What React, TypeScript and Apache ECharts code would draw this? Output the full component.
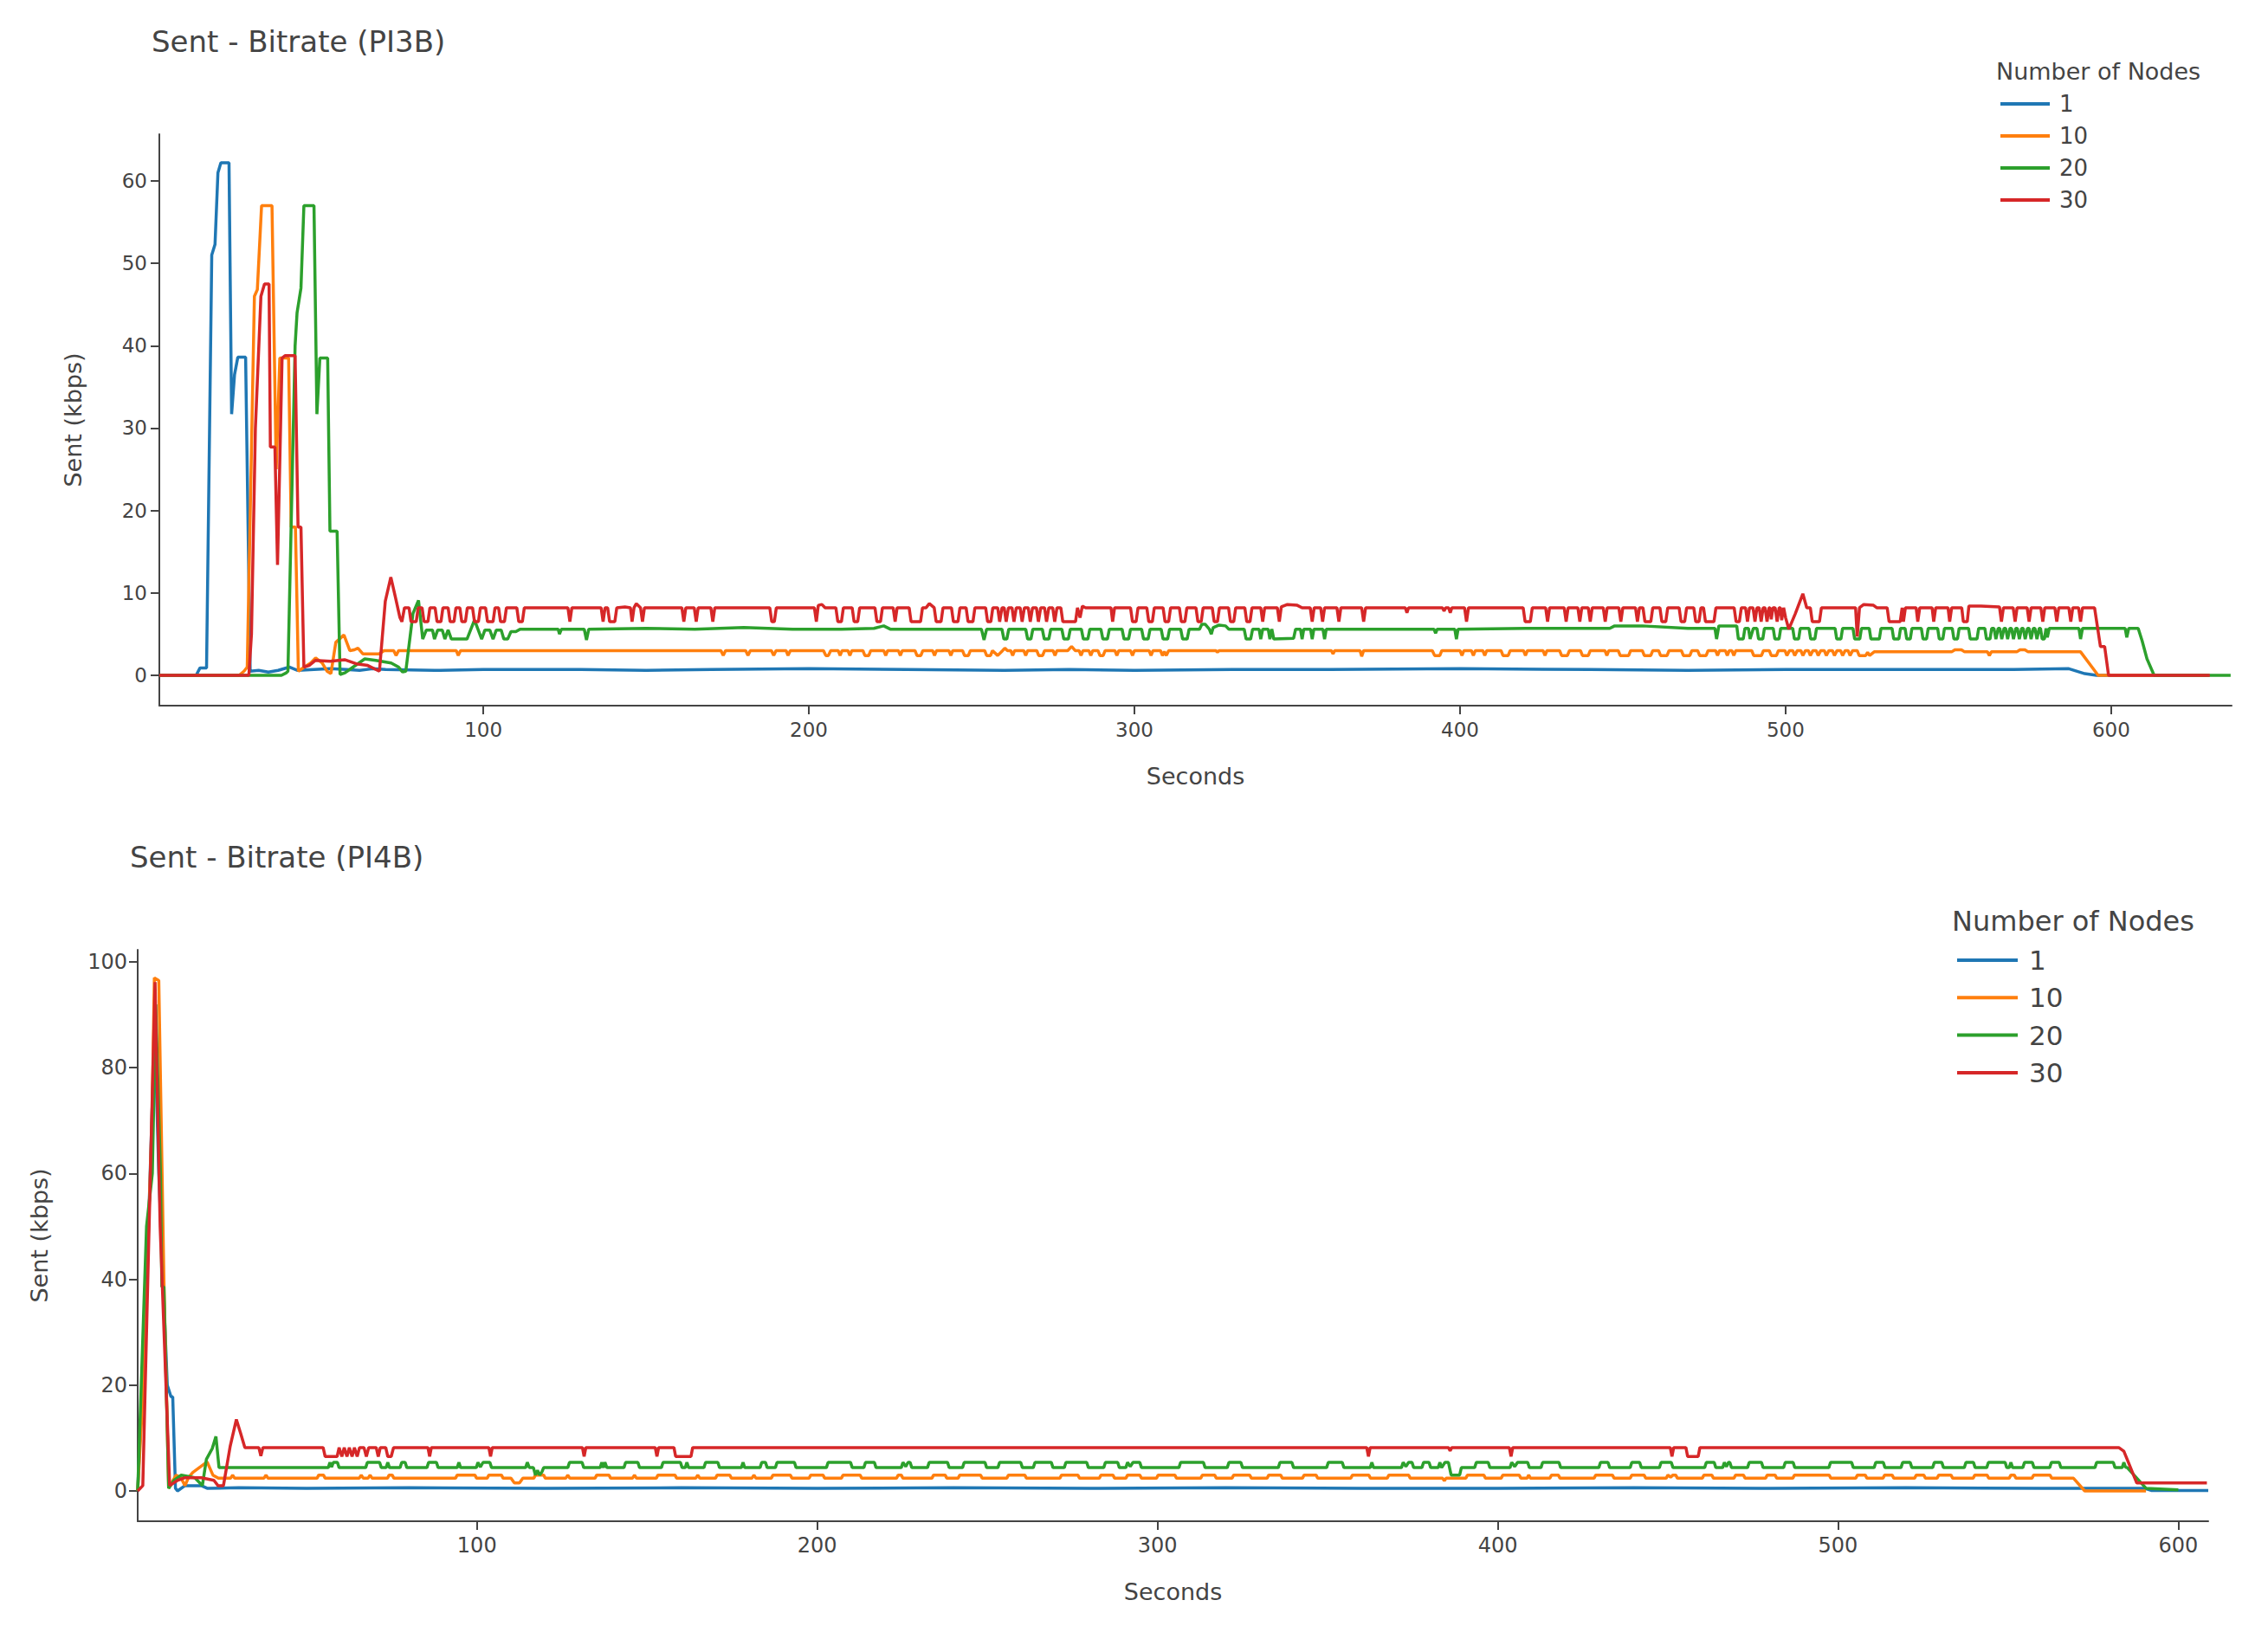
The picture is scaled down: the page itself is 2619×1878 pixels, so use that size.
import React, { useEffect, useRef } from "react";
import * as echarts from "echarts";

const seriesNames = ["1", "10", "20", "30"];
const legendTitle = "Number of Nodes";
const chartTitles = ["Sent - Bitrate (PI3B)", "Sent - Bitrate (PI4B)"];
const xAxisTitle = "Seconds";
const yAxisTitle = "Sent (kbps)";

const xTicks = [100, 200, 300, 400, 500, 600];
const yTicksPI3B = [0, 10, 20, 30, 40, 50, 60];
const yTicksPI4B = [0, 20, 40, 60, 80, 100];

const xRangePI3B = [0.5, 637];
const yRangePI3B = [-3.68, 65.67];
const xRangePI4B = [0.3, 608.8];
const yRangePI4B = [-5.73, 102.3];

// ---- PI3B ----
const pi3bNodes1 = [[0.5,0],[11.8,0],[13,0.9],[15,0.9],[16.6,51],[17.6,52.3],[18.5,61],[19.4,62.2],[21.9,62.2],[22.7,31.7],[23.6,36.5],[24.6,38.6],[27,38.6],[28.4,0.5],[31,0.6],[34,0.4],[37,0.6],[40.4,1.0],[43,0.6],[48,0.7],[53,0.8],[58,0.7],[62,0.6],[66,0.8],[70,0.7],[85,0.6],[100,0.7],[130,0.7],[150,0.6],[170,0.7],[200,0.8],[230,0.7],[260,0.6],[280,0.7],[300,0.6],[330,0.7],[360,0.7],[400,0.8],[440,0.7],[470,0.6],[500,0.7],[540,0.7],[570,0.7],[587,0.8],[591.9,0.2],[595.5,0],[630,0]];

const pi3bNodes10 = [[0.5,0],[25,0],[26.5,0.5],[27.5,1],[29.7,46],[30.6,46.8],[31.9,57],[35.1,57],[36.4,25],[37.5,38.5],[40.2,38.5],[41,18],[42.3,18],[43.2,0.5],[45,1],[47,1.5],[48.5,2.1],[50.5,1.5],[52,0.5],[53.2,0.2],[54.7,4],[57.2,4.9],[59,3],[60.4,3.1],[61.5,3.3],[63,2.6],[68,2.6],[69.5,3],[72.5,3],[73.2,2.4],[74,3],[91.7,3],[92.3,2.4],[93,3],[173,3],[173.7,2.4],[174.4,3],[180.6,3],[181.3,2.4],[182,3],[188.5,3],[189.2,2.4],[189.9,3],[193,3],[193.6,2.4],[194.3,3],[204.5,3],[205.2,2.4],[206,2.4],[206.7,3],[209,3],[209.6,2.4],[210.2,3],[212,3],[212.6,2.4],[213.2,3],[216.6,3],[217.2,2.4],[218.4,2.4],[219,3],[223,3],[223.6,2.4],[224.2,3],[227.5,3],[228.1,2.4],[228.7,3],[232.6,3],[233.2,2.4],[234.4,2.4],[235,3],[238,3],[238.6,2.4],[239.2,3],[243,3],[243.6,2.4],[244.2,3],[247.2,3],[247.8,2.4],[249,2.4],[249.6,3],[254,3],[254.6,2.4],[255.8,2.4],[256.4,3],[258,2.4],[259.5,3],[260.2,3.3],[261,3],[262,3],[262.6,2.4],[263.2,3],[266,3],[266.6,2.4],[267.2,3],[270,3],[270.6,2.4],[271.8,2.4],[272.4,3],[275,3],[275.6,2.4],[276.2,3],[279.5,3],[280.7,3.5],[281.8,3],[283,3],[283.6,2.4],[284.2,3],[286,3],[286.6,2.4],[287.2,3],[288.8,3],[289.4,2.4],[290.4,2.4],[291,3],[294,3],[294.6,2.4],[295.2,3],[298.8,3],[299.4,2.4],[300,3],[304.5,3],[305.1,2.4],[305.7,3],[308,3],[308.6,2.4],[309.2,2.9],[309.8,2.4],[310.5,3],[325,3],[325.5,2.8],[326,3],[360.5,3],[361,2.6],[361.5,3],[369.3,3],[369.8,2.3],[370.4,3],[391.5,3],[392.2,2.4],[393.8,2.4],[394.4,3],[400,3],[400.6,2.4],[401.2,3],[403.5,3],[404.1,2.4],[404.7,3],[407,3],[407.6,2.4],[408.2,3],[412.6,3],[413.2,2.4],[414.8,2.4],[415.4,3],[419.5,3],[420.1,2.4],[420.7,3],[425.5,3],[426.1,2.4],[426.7,3],[430.6,3],[431.2,2.4],[433,2.4],[433.6,3],[437,3],[437.6,2.4],[439.4,2.4],[440,3],[444.5,3],[445.1,2.4],[445.7,3],[448.6,3],[449.2,2.4],[451.8,2.4],[452.4,3],[456,3],[456.6,2.4],[458.6,2.4],[459.2,3],[461,3],[461.6,2.4],[463.6,2.4],[464.2,3],[468,3],[468.6,2.4],[470.6,2.4],[471.2,3],[473,3],[473.6,2.4],[475.6,2.4],[476.2,3],[478.5,3],[479.1,2.4],[479.7,3],[481.5,3],[482.1,2.4],[482.7,3],[483.5,3],[484.1,2.4],[484.7,3],[489.6,3],[490.2,2.4],[492.6,2.4],[493.2,3],[495,3],[495.6,2.4],[497.2,2.4],[497.8,3],[499.8,3],[500.4,2.4],[501.2,3],[502.2,3],[502.8,2.4],[503.6,3],[504.7,3],[505.3,2.4],[506.1,3],[507,3],[507.6,2.4],[508.4,3],[509.4,3],[510,2.4],[510.8,3],[511.9,3],[512.5,2.4],[513.3,3],[514.4,3],[515,2.4],[515.8,3],[516.9,3],[517.5,2.4],[518.3,3],[519.2,3],[519.8,2.4],[520.6,3],[522,3],[522.6,2.4],[524.6,2.4],[525.2,2.8],[525.8,2.4],[527.2,2.85],[551,2.85],[552,3.1],[554,3.1],[555,2.85],[562,2.85],[562.6,2.4],[563.2,2.85],[571,2.85],[572,3.1],[573.5,3.1],[574.5,2.85],[590.6,2.85],[596,0],[630,0]];

const pi3bNodes20 = [[0.5,0],[38,0],[39.5,0.3],[40,0.5],[42.2,40],[42.8,44],[44,47],[44.9,57],[48,57],[48.9,31.7],[49.8,38.5],[52.2,38.5],[52.9,17.5],[55.1,17.5],[56,0.1],[57.5,0.3],[60,1],[63.6,2],[67,1.8],[71.7,1.5],[74,1],[75.2,0.4],[76.2,0.5],[78.4,7.5],[80.1,9.1],[81.4,4.4],[82.5,5.5],[84.4,5.5],[85,4.4],[86,5.5],[87.4,5.5],[88.2,4.4],[89.2,5.5],[90.2,4.4],[95,4.4],[97.3,6.7],[99.5,4.4],[100.5,5.5],[102,5.5],[103,4.4],[104,5.5],[105.5,5.5],[106.3,4.4],[107.5,4.4],[108.5,5.3],[110,5.3],[111.3,5.6],[123,5.6],[123.4,5],[124,5.6],[131,5.6],[131.7,4.3],[132.4,5.6],[150,5.7],[165,5.6],[180,5.8],[195,5.6],[210,5.6],[220,5.7],[223,6.0],[225,5.6],[240,5.6],[253,5.6],[253.8,4.3],[254.6,5.6],[259.3,5.6],[259.9,4.4],[260.8,4.4],[261.4,5.6],[266.6,5.6],[267.2,4.4],[268.2,4.4],[268.8,5.6],[271.7,5.6],[272.3,4.4],[273.7,4.4],[274.3,5.6],[277.7,5.6],[278.3,4.4],[279.7,4.4],[280.3,5.6],[283.7,5.6],[284.3,4.4],[285.7,4.4],[286.3,5.6],[289.7,5.6],[290.3,4.4],[291.7,4.4],[292.3,5.6],[296.2,5.6],[296.8,4.4],[298.2,4.4],[298.8,5.6],[302.2,5.6],[302.8,4.4],[304.2,4.4],[304.8,5.6],[308.2,5.6],[308.8,4.4],[310.2,4.4],[310.8,5.6],[314.2,5.6],[314.8,4.4],[316.2,4.4],[316.8,5.6],[320,5.6],[320.7,6.2],[321.7,6.2],[323,5.6],[323.6,5],[324.2,5.8],[326,6.1],[328,6.0],[329,5.6],[333.7,5.6],[334.3,4.4],[335.7,4.4],[336.3,5.6],[338.3,5.6],[338.8,4.4],[339.4,5.6],[341.1,5.6],[341.6,4.4],[342.2,5.6],[342.8,4.4],[348.9,4.5],[349.5,5.6],[351,5.6],[351.5,4.4],[352,5.6],[354.1,5.6],[354.6,4.4],[355.1,5.6],[357.9,5.6],[358.4,4.4],[358.9,5.6],[392,5.6],[392.5,5.1],[393,5.6],[398.4,5.6],[398.9,4.4],[399.4,5.6],[420,5.7],[446,5.7],[447.5,6.0],[456,6.0],[470,5.7],[478.3,5.7],[478.8,4.4],[479.5,6.0],[485,6.0],[485.5,4.4],[487,4.4],[487.5,5.7],[488.6,5.7],[489.1,4.4],[490.1,5.7],[491.2,5.7],[491.7,4.4],[493,4.4],[493.5,5.7],[496.2,5.7],[496.7,4.4],[498,4.4],[498.5,5.7],[502.2,5.7],[502.7,4.4],[504,4.4],[504.5,5.7],[507.2,5.7],[507.7,4.4],[509,4.4],[509.5,5.7],[515.2,5.7],[515.7,4.4],[517,4.4],[517.5,5.7],[520.7,5.7],[521.2,4.4],[522.8,4.4],[523.3,5.7],[525.7,5.7],[526.2,4.4],[528.8,4.4],[529.3,5.7],[532.7,5.7],[533.2,4.4],[534.8,4.4],[535.3,5.7],[536.7,5.7],[537.2,4.4],[538.3,4.4],[538.8,5.7],[541.7,5.7],[542.2,4.4],[543.3,4.4],[543.8,5.7],[546.7,5.7],[547.2,4.4],[548.3,4.4],[548.8,5.7],[551.2,5.7],[551.7,4.4],[552.8,4.4],[553.3,5.7],[556.2,5.7],[556.7,4.4],[558.8,4.4],[559.3,5.7],[561.2,5.7],[561.7,4.4],[562.8,4.4],[563.3,5.7],[564,5.7],[564.6,4.4],[565.3,5.7],[565.8,5.7],[566.4,4.4],[567.1,5.7],[567.6,5.7],[568.2,4.4],[568.9,5.7],[569.4,5.7],[570,4.4],[570.7,5.7],[571.2,5.7],[571.8,4.4],[572.5,5.7],[573,5.7],[573.6,4.4],[574.3,5.7],[574.8,5.7],[575.4,4.4],[576.1,5.7],[576.6,5.7],[577.2,4.4],[577.9,5.7],[578.3,5.7],[578.8,4.4],[579.5,4.4],[580,5.7],[580.4,4.6],[581,5.7],[590.1,5.7],[590.6,4.4],[591.2,5.7],[604.3,5.7],[604.8,4.6],[605.4,5.7],[608.3,5.7],[609.5,4.2],[611,2],[613.2,0],[636.7,0]];

const pi3bNodes30 = [[0.5,0],[28,0],[28.8,5],[30,30],[31.7,46],[32.8,47.5],[34.2,47.5],[34.6,27.7],[36,27.7],[36.8,13.4],[38.2,38.5],[39.1,38.8],[42.2,38.8],[43.1,18],[44,18],[44.9,1],[46.5,1.2],[48.4,1.8],[53,1.7],[57.4,1.9],[61,1.4],[64.5,1.2],[68.1,0.5],[69.9,9],[71.6,11.9],[73,9.5],[74.4,7],[75,6.5],[75.8,8.2],[77.2,8.2],[77.8,6.5],[79.4,6.5],[80,8.2],[81.2,8.2],[81.8,6.5],[83,6.5],[83.6,8.2],[85.2,8.2],[85.8,6.5],[87,6.5],[87.6,8.2],[89.2,8.2],[89.8,6.5],[91,6.5],[91.6,8.2],[92.8,8.2],[93.4,6.5],[94.5,6.5],[95.1,8.2],[96.7,8.2],[97.3,6.5],[98.5,6.5],[99.1,8.2],[100.7,8.2],[101.3,6.5],[103,6.5],[103.6,8.2],[104.7,8.2],[105.3,6.5],[106.5,6.5],[107.1,8.2],[110.3,8.2],[110.9,6.5],[112,6.5],[112.6,8.2],[126,8.2],[126.6,6.5],[127.2,8.2],[136.2,8.2],[136.8,6.5],[137.4,8.2],[138.2,8.2],[138.8,6.5],[140.4,6.5],[141,8.2],[143.5,8.3],[145.2,8.2],[145.7,6.5],[146.3,8.2],[147,8.7],[148.3,8.2],[148.9,6.5],[149.5,8.2],[161,8.2],[161.6,6.5],[162.2,8.2],[164.8,8.2],[165.4,6.5],[166,8.2],[169.9,8.2],[170.5,6.5],[171.1,8.2],[188,8.2],[188.6,6.5],[189.4,6.5],[190,8.2],[201.7,8.2],[202.3,6.5],[202.9,8.5],[204,8.6],[205,8.2],[208.3,8.2],[208.9,6.5],[210,6.5],[210.6,8.2],[213.3,8.2],[213.9,6.5],[215,6.5],[215.6,8.2],[220.3,8.2],[220.9,6.5],[222,6.5],[222.6,8.2],[225.9,8.2],[226.5,6.5],[227.1,8.2],[230.8,8.2],[231.4,6.5],[234.3,6.5],[234.9,8.2],[236,8.2],[237,8.7],[238.5,8.2],[239.1,6.5],[240.6,6.5],[241.2,8.2],[243.8,8.2],[244.4,6.5],[245.8,6.5],[246.4,8.2],[248.3,8.2],[248.9,6.5],[250.4,6.5],[251,8.2],[254.3,8.2],[254.9,6.5],[255.9,6.5],[256.5,8.2],[258,8.2],[258.6,6.5],[259.3,8.2],[260,8.2],[260.6,6.5],[261.3,8.2],[262.4,8.2],[263,6.5],[263.7,8.2],[264.9,8.2],[265.5,6.5],[266.2,8.2],[267.4,8.2],[268,6.5],[268.7,8.2],[269.9,8.2],[270.5,6.5],[271.2,8.2],[272.4,8.2],[273,6.5],[273.7,8.2],[274.9,8.2],[275.5,6.5],[276.2,8.2],[277.4,8.2],[278,6.5],[281.9,6.5],[282.5,8.2],[283.3,7],[284,8.4],[285,8.2],[286.3,8.2],[292.8,8.2],[293.3,6.5],[293.9,8.2],[298.8,8.2],[299.4,6.5],[300.5,6.5],[301.1,8.2],[303.8,8.2],[304.4,6.5],[305.5,6.5],[306.1,8.2],[308.8,8.2],[309.4,6.5],[310.5,6.5],[311.1,8.2],[313.8,8.2],[314.4,6.5],[315.5,6.5],[316.1,8.2],[318.9,8.2],[319.5,6.5],[320.5,6.5],[321.1,8.2],[323.9,8.2],[324.5,6.5],[325.5,6.5],[326.1,8.2],[328.9,8.2],[329.5,6.5],[330.5,6.5],[331.1,8.2],[333.9,8.2],[334.5,6.5],[335.5,6.5],[336.1,8.2],[338.8,8.2],[339.4,6.5],[340,8.2],[343.9,8.2],[344.5,6.5],[345.1,8.3],[347,8.6],[350,8.5],[351.5,8.2],[354,8.2],[354.6,6.5],[355.2,8.2],[357.2,8.2],[357.8,6.5],[358.4,8.2],[362.2,8.2],[362.8,6.5],[363.4,8.2],[369.8,8.2],[370.4,6.5],[371,8.2],[383.2,8.2],[383.7,7.6],[384.2,8.2],[394.6,8.2],[395.1,7.8],[395.6,8.2],[396.5,8.2],[397,7.6],[397.5,8.2],[401.4,8.2],[402,6.5],[402.6,8.2],[419.4,8.2],[420,6.5],[421.6,6.5],[422.2,8.2],[426.3,8.2],[426.9,6.5],[427.5,8.2],[432,8.2],[432.6,6.5],[433.2,8.2],[436.2,8.2],[436.8,6.5],[437.4,8.2],[439.4,8.2],[440,6.5],[440.6,8.2],[444,8.2],[444.6,6.5],[445.2,8.2],[448.8,8.2],[449.4,6.5],[450,8.2],[453.9,8.2],[454.5,6.5],[455.1,8.2],[456.2,8.2],[456.8,6.5],[458.6,6.5],[459.2,8.2],[461.4,8.2],[462,6.5],[463.2,6.5],[463.8,8.2],[467.3,8.2],[467.9,6.5],[469,6.5],[469.6,8.2],[471.8,8.2],[472.4,6.5],[473.4,6.5],[474,8.2],[474.8,8.2],[475.4,6.5],[478,6.5],[478.6,8.2],[484.2,8.2],[484.8,6.5],[485.8,6.5],[486.4,8.2],[487.7,8.2],[488.3,6.5],[488.9,8.2],[490,8.2],[490.6,6.5],[491.2,8.2],[491.9,8.2],[492.5,6.5],[493.1,8.2],[493.7,8.2],[494.3,6.5],[494.9,8.2],[495.2,8.2],[495.6,6.8],[496.1,8.2],[496.8,8.2],[497.4,6.5],[498,8.2],[498.4,8.2],[498.8,6.7],[499.4,8.2],[500,7],[501,5.6],[503,7.5],[505.3,9.9],[506.5,8.2],[507.6,8.2],[508.2,6.5],[510.4,6.5],[511,8.2],[521.5,8.2],[522,4.7],[522.7,8.2],[524,8.6],[527,8.5],[528,8.2],[531.2,8.2],[531.8,6.5],[535.2,6.5],[535.8,8.2],[536.2,6.5],[536.8,8.2],[540.1,8.2],[540.6,6.5],[541.2,8.2],[545,8.2],[545.5,6.5],[546.1,8.2],[549.9,8.2],[550.4,6.5],[551,8.2],[554.1,8.2],[554.6,6.5],[555.8,6.5],[556.3,8.4],[560,8.4],[565.7,8.3],[566.3,6.5],[566.9,8.2],[569.9,8.2],[570.5,6.5],[571.1,8.2],[574.2,8.2],[574.8,6.5],[575.4,8.2],[578.4,8.2],[579,6.5],[579.6,8.2],[582.7,8.2],[583.3,6.5],[583.9,8.2],[587,8.2],[587.6,6.5],[588.2,8.2],[590,8.2],[590.6,6.5],[591.2,8.2],[594.9,8.2],[596.7,3.5],[598,3.5],[599.2,0],[630.3,0]];

// ---- PI4B ----
const pi4bNodes1 = [[0.3,0],[3,40],[5.3,88],[6.5,60],[9,20],[10.1,17.8],[10.6,17.8],[11.4,0.5],[12,0],[14.2,1],[19,1],[20.7,0.5],[30,0.6],[50,0.5],[80,0.6],[120,0.5],[160,0.6],[200,0.5],[240,0.6],[280,0.5],[320,0.6],[360,0.5],[400,0.5],[440,0.6],[480,0.5],[520,0.6],[560,0.5],[590,0.5],[592,0.1],[608.8,0.1]];

const pi4bNodes10 = [[0.3,0],[2,20],[4.5,70],[5.2,97],[6.5,96.5],[8,40],[9.4,0.5],[11.6,3],[13,2.5],[14.2,1],[15.2,2.5],[16.5,3.5],[20.7,5.5],[22.4,3],[24,2.4],[27.6,2.4],[28.2,3],[28.8,2.4],[37.4,2.4],[38,3],[38.6,2.4],[53,2.4],[53.5,3],[54.9,3],[55.4,2.4],[65.4,2.4],[66,3],[66.6,2.4],[68,2.4],[68.6,3],[69.2,2.4],[73.7,2.4],[74.2,3],[75.1,3],[75.6,2.4],[93.7,2.4],[94.2,3],[99.4,3],[99.9,2.4],[103,2.4],[103.5,3],[107.2,3],[107.7,2.4],[110,2.4],[111,1.5],[112.5,1.5],[113.5,2.4],[116.7,2.4],[117.2,3],[119.6,3],[120.1,2.4],[126.1,2.4],[126.7,3],[127.3,2.4],[134.7,2.4],[135.2,3],[138.8,3],[139.3,2.4],[145.7,2.4],[146.3,3],[146.9,2.4],[152.7,2.4],[153.2,3],[158.2,3],[158.7,2.4],[164.3,2.4],[164.9,3],[165.5,2.4],[170.1,2.4],[170.6,3],[174.3,3],[174.8,2.4],[180.8,2.4],[181.4,3],[182,2.4],[186.5,2.4],[187,3],[192.1,3],[192.6,2.4],[197.6,2.4],[198.1,3],[201.7,3],[202.2,2.4],[207.1,2.4],[207.6,3],[212.6,3],[213.1,2.4],[223.3,2.4],[223.8,3],[224.7,3],[225.2,2.4],[233.7,2.4],[234.2,3],[237.6,3],[238.1,2.4],[241.4,2.4],[241.9,3],[248,3],[248.5,2.4],[255.7,2.4],[256.2,3],[261,3],[261.5,2.4],[271.3,2.4],[271.8,3],[276.6,3],[277.1,2.4],[282.9,2.4],[283.4,3],[286.9,3],[287.4,2.4],[290.7,2.4],[291.2,3],[294.8,3],[295.3,2.4],[299.7,2.4],[300.2,3],[305.1,3],[305.6,2.4],[312.7,2.4],[313.2,3],[316.8,3],[317.3,2.4],[321.9,2.4],[322.4,3],[327.1,3],[327.6,2.4],[332.2,2.4],[332.7,3],[336.2,3],[336.7,2.4],[342.6,2.4],[343.1,3],[346.6,3],[347.1,2.4],[356.8,2.4],[357.3,3],[362.1,3],[362.6,2.4],[367.5,2.4],[368,3],[373.8,3],[374.3,2.4],[383.8,2.4],[384.3,1.9],[384.8,2.4],[390.6,2.4],[391.1,3],[395.9,3],[396.4,2.4],[401,2.4],[401.5,3],[406.3,3],[406.8,2.4],[408.6,2.4],[409.1,3],[409.6,2.4],[415.3,2.4],[415.8,3],[417.8,3],[418.3,2.4],[428.3,2.4],[428.8,3],[433.7,3],[434.2,2.4],[438.9,2.4],[439.4,3],[443,3],[443.5,2.4],[449.5,2.4],[450,3],[450.8,2.6],[451.5,3],[452.3,3],[452.8,2.4],[460.1,2.4],[460.6,3],[462.9,3],[463.4,2.4],[469.4,2.4],[469.9,3],[472.2,3],[472.7,2.4],[478.7,2.4],[479.2,3],[481.5,3],[482,2.4],[486.7,2.4],[487.2,3],[497.4,3],[497.9,2.4],[505.2,2.4],[505.7,3],[508,3],[508.5,2.4],[513.2,2.4],[513.7,3],[515.9,3],[516.4,2.4],[522.5,2.4],[523,3],[525.2,3],[525.7,2.4],[529.1,2.4],[529.6,3],[533.2,3],[533.7,2.4],[539.7,2.4],[540.2,3],[543.8,3],[544.3,2.4],[550.3,2.4],[550.8,3],[551.8,3],[552.3,2.4],[557,2.4],[557.5,3],[562.3,3],[562.8,2.4],[569.2,2.4],[572.5,0],[590.5,0]];

const pi4bNodes20 = [[0.3,0],[2.9,50],[4.6,60],[5.6,92],[7,60],[7.4,38.6],[8,38.6],[9.4,0.5],[11,2],[13.1,3],[17.1,2.5],[19.3,1],[20.5,6],[22.2,8],[23.3,10.3],[24.2,4.4],[55.1,4.4],[56.3,4.4],[56.8,5.4],[57.3,4.5],[57.8,5.4],[59,5.4],[59.5,4.4],[67.3,4.4],[67.8,5.4],[71.4,5.4],[71.9,4.4],[73.3,4.4],[73.8,5.4],[74.3,4.4],[77.4,4.4],[77.9,5.4],[78.9,5.4],[79.4,4.4],[85.3,4.4],[85.8,5.4],[88.1,5.4],[88.6,4.4],[94.2,4.4],[94.7,5.4],[95.2,4.4],[99.8,4.4],[100.3,5.4],[101,4.5],[101.8,5.4],[103.8,5.4],[104.3,4.4],[114.3,4.4],[114.8,5.4],[115.4,4.4],[116.6,4.4],[117.2,3],[117.8,3.9],[118.4,3],[119.1,3.6],[119.6,4.4],[126.7,4.4],[127.2,5.4],[130.9,5.4],[131.4,4.4],[136.2,4.4],[136.7,5.4],[137.2,4.4],[137.6,5.4],[138.2,4.4],[143.2,4.4],[143.7,5.4],[147.3,5.4],[147.8,4.4],[154.2,4.4],[154.7,5.4],[159.8,5.4],[160.3,4.4],[161.2,4.4],[161.7,5.4],[162.2,4.4],[166.7,4.4],[167.2,5.4],[170.8,5.4],[171.3,4.4],[177.7,4.4],[178.2,5.4],[178.7,4.4],[183.2,4.4],[183.7,5.4],[184.8,5.4],[185.3,4.4],[187.7,4.4],[188.2,5.4],[193.3,5.4],[193.8,4.4],[202.7,4.4],[203.2,5.4],[209.8,5.4],[210.3,4.4],[213.7,4.4],[214.2,5.4],[216.8,5.4],[217.3,4.4],[224.7,4.4],[225.2,5.4],[226,4.6],[226.7,5.4],[227.3,5.4],[227.8,4.4],[232.4,4.4],[232.9,5.4],[238.3,5.4],[238.8,4.4],[242.7,4.4],[243.2,5.4],[249.3,5.4],[249.8,4.4],[253.1,4.4],[253.6,5.4],[259.8,5.4],[260.3,4.4],[263.5,4.4],[264,5.4],[268.8,5.4],[269.3,4.4],[272.6,4.4],[273.1,5.4],[279.2,5.4],[279.7,4.4],[284.2,4.4],[284.7,5.4],[288.3,5.4],[288.8,4.4],[290.7,4.4],[291.2,5.4],[292,4.6],[292.8,5.4],[294.8,5.4],[295.3,4.4],[306.3,4.4],[306.8,5.4],[313.5,5.4],[314,4.4],[320.5,4.4],[321,5.4],[324.5,5.4],[325,4.4],[335.5,4.4],[336,5.4],[339.5,5.4],[340,4.4],[349.7,4.4],[350.2,5.4],[354.3,5.4],[354.8,4.4],[362.5,4.4],[363,5.4],[363.5,4.4],[371.7,4.4],[372.2,5.4],[373,4.6],[373.8,5.4],[374.8,5.4],[375.3,4.4],[377.7,4.4],[378.2,5.4],[379.8,5.4],[380.3,4.4],[382.5,4.4],[383,5.4],[383.5,4.4],[384.5,5.4],[385.5,5.4],[386.3,3],[388.8,3],[389.3,4.4],[393.2,4.4],[393.7,5.4],[397.2,5.4],[397.7,4.4],[403.6,4.4],[404.1,5.4],[405,4.6],[405.8,5.4],[408.8,5.4],[409.3,4.4],[412.7,4.4],[413.2,5.4],[418,5.4],[418.5,4.4],[429.7,4.4],[430.2,5.4],[432.4,5.4],[432.9,4.4],[438.9,4.4],[439.4,5.4],[441.7,5.4],[442.2,4.4],[447.5,4.4],[448,5.4],[451,5.4],[451.5,4.4],[460.8,4.4],[461.3,5.4],[463.6,5.4],[464.1,4.4],[466.1,4.4],[466.6,5.4],[467.2,4.6],[467.8,5.4],[468.2,5.4],[468.7,4.4],[473.4,4.4],[473.9,5.4],[477.5,5.4],[478,4.4],[484,4.4],[484.5,5.4],[486.8,5.4],[487.3,4.4],[497.3,4.4],[497.8,5.4],[504,5.4],[504.5,4.4],[510.6,4.4],[511.1,5.4],[513.3,5.4],[513.8,4.4],[518.5,4.4],[519,5.4],[521.2,5.4],[521.7,4.4],[527.8,4.4],[528.3,5.4],[530.5,5.4],[531,4.4],[537.1,4.4],[537.6,5.4],[539.8,5.4],[540.3,4.4],[543.7,4.4],[544.2,5.4],[549.1,5.4],[549.6,4.4],[550.3,4.4],[550.8,5.4],[551.3,4.4],[554.3,4.4],[554.8,5.4],[557.1,5.4],[557.6,4.4],[562.2,4.4],[562.7,5.4],[565,5.4],[565.5,4.4],[575.5,4.4],[576,5.4],[580.9,5.4],[581.4,4.4],[583.5,4.4],[584,5.4],[584.5,4.5],[585,4.4],[590.5,0.5],[600,0.2]];

const pi4bNodes30 = [[0.3,0],[1.8,1],[5.4,96.2],[6.9,50],[9.7,1],[12,2],[14.2,2.5],[19,2.5],[22.7,2],[23.9,1],[25.5,1],[27.5,8.5],[29.3,13.5],[30.5,11],[31.8,8.2],[35.9,8.2],[36.5,6.6],[37.1,8.2],[54.8,8.2],[55.4,6.5],[58.9,6.5],[59.5,8.2],[60.3,6.5],[61,8.2],[61.8,6.5],[62.5,8.2],[63.3,6.5],[64,8.2],[64.8,6.5],[65.5,8.2],[66.8,8.2],[67.5,6.5],[68.2,8.2],[70.4,8.2],[71,6.5],[71.6,8.2],[73.2,8.2],[73.8,6.5],[74.8,6.5],[75.5,8.2],[85.6,8.2],[86.1,6.5],[86.6,8.2],[103.5,8.2],[104,6.5],[104.5,8.2],[131,8.2],[131.5,6.5],[132,8.2],[152.4,8.2],[152.9,6.5],[153.4,8.2],[157.9,8.2],[158.4,6.5],[162.9,6.5],[163.4,8.2],[361.5,8.2],[362,6.5],[362.5,8.2],[385.5,8.2],[386,7.6],[386.5,8.2],[403.4,8.2],[403.9,6.5],[404.4,8.2],[450.7,8.2],[451.2,6.5],[451.7,8.2],[455.3,8.2],[455.8,6.5],[458.9,6.5],[459.4,8.2],[582.5,8.2],[584,7.5],[587.8,1.5],[608.4,1.5]];

const pi3bSeries = [pi3bNodes1, pi3bNodes10, pi3bNodes20, pi3bNodes30];
const pi4bSeries = [pi4bNodes1, pi4bNodes10, pi4bNodes20, pi4bNodes30];

const FONT = 'Verdana, "DejaVu Sans", sans-serif';
const TEXT = "#444";
const COLORS = ["#1f77b4", "#ff7f0e", "#2ca02c", "#d62728"];
const LINE_W = 3.5;

function makeXAxis(gridIndex: number, range: number[], labelSize: number) {
  return {
    type: "value",
    gridIndex,
    min: range[0],
    max: range[1],
    name: xAxisTitle,
    nameLocation: "middle",
    nameGap: 68,
    nameTextStyle: { fontFamily: FONT, fontSize: 27, color: TEXT },
    axisLine: { show: true, onZero: false, lineStyle: { color: TEXT, width: 2 } },
    axisTick: { show: true, length: 10, customValues: xTicks, lineStyle: { color: TEXT, width: 2 } },
    axisLabel: { customValues: xTicks, fontFamily: FONT, fontSize: labelSize, color: TEXT, margin: 16 },
    splitLine: { show: false },
  };
}

function makeYAxis(gridIndex: number, range: number[], ticks: number[], gap: number, labelSize: number, margin: number) {
  return {
    type: "value",
    gridIndex,
    min: range[0],
    max: range[1],
    name: yAxisTitle,
    nameLocation: "middle",
    nameGap: gap,
    nameTextStyle: { fontFamily: FONT, fontSize: 27, color: TEXT },
    axisLine: { show: true, onZero: false, lineStyle: { color: TEXT, width: 2 } },
    axisTick: { show: true, length: 10, customValues: ticks, lineStyle: { color: TEXT, width: 2 } },
    axisLabel: { customValues: ticks, fontFamily: FONT, fontSize: labelSize, color: TEXT, margin },
    splitLine: { show: false },
  };
}

export default function App() {
  const ref = useRef<HTMLDivElement>(null);
  useEffect(() => {
    if (!ref.current) return;
    const chart = echarts.init(ref.current, null, { renderer: "svg" });
    const series: any[] = [];
    pi3bSeries.forEach((d, i) => {
      series.push({
        name: seriesNames[i],
        type: "line",
        xAxisIndex: 0,
        yAxisIndex: 0,
        data: d,
        showSymbol: false,
        symbol: "none",
        color: COLORS[i],
        lineStyle: { width: LINE_W, color: COLORS[i] },
        z: 2 + i,
      });
    });
    pi4bSeries.forEach((d, i) => {
      series.push({
        name: seriesNames[i],
        type: "line",
        xAxisIndex: 1,
        yAxisIndex: 1,
        data: d,
        showSymbol: false,
        symbol: "none",
        color: COLORS[i],
        lineStyle: { width: LINE_W, color: COLORS[i] },
        z: 2 + i,
      });
    });
    const option: any = {
      animation: false,
      backgroundColor: "#fff",
      color: COLORS,
      title: [
        { text: chartTitles[0], left: 175, top: 28, padding: 0, textStyle: { fontFamily: FONT, fontSize: 34, fontWeight: "normal", color: TEXT, lineHeight: 40 } },
        { text: chartTitles[1], left: 150, top: 970, padding: 0, textStyle: { fontFamily: FONT, fontSize: 34, fontWeight: "normal", color: TEXT, lineHeight: 40 } },
        { text: legendTitle, left: 2305, top: 66, padding: 0, textStyle: { fontFamily: FONT, fontSize: 27, fontWeight: "normal", color: TEXT, lineHeight: 32 } },
        { text: legendTitle, left: 2254, top: 1045, padding: 0, textStyle: { fontFamily: FONT, fontSize: 32, fontWeight: "normal", color: TEXT, lineHeight: 38 } },
      ],
      legend: [
        {
          data: seriesNames,
          orient: "vertical",
          left: 2310,
          top: 105,
          padding: 0,
          itemGap: 7,
          itemWidth: 57,
          itemHeight: 4,
          icon: "rect",
          selectedMode: false,
          textStyle: { fontFamily: FONT, fontSize: 26, color: TEXT, lineHeight: 30, padding: [0, 0, 0, 6] },
        },
        {
          data: seriesNames,
          orient: "vertical",
          left: 2260,
          top: 1092,
          padding: 0,
          itemGap: 9.3,
          itemWidth: 70,
          itemHeight: 4,
          icon: "rect",
          selectedMode: false,
          textStyle: { fontFamily: FONT, fontSize: 31, color: TEXT, lineHeight: 34, padding: [0, 0, 0, 8] },
        },
      ],
      grid: [
        { left: 184, top: 155, width: 2393, height: 660 },
        { left: 159, top: 1097, width: 2391, height: 660 },
      ],
      xAxis: [makeXAxis(0, xRangePI3B, 23), makeXAxis(1, xRangePI4B, 24)],
      yAxis: [
        makeYAxis(0, yRangePI3B, yTicksPI3B, 86, 23, 14),
        makeYAxis(1, yRangePI4B, yTicksPI4B, 100, 24, 12),
      ],
      series,
    };
    chart.setOption(option);
    return () => chart.dispose();
  }, []);
  return <div ref={ref} style={{ position: "absolute", left: 0, top: 0, width: 2619, height: 1878 }} />;
}
